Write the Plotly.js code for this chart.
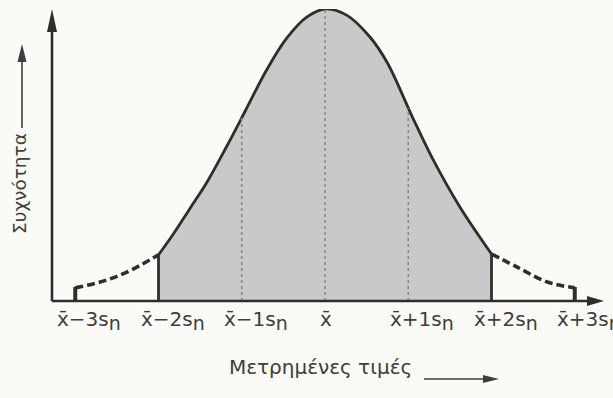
<!DOCTYPE html>
<html>
<head>
<meta charset="utf-8">
<script src="https://cdn.plot.ly/plotly-3.0.1.min.js"></script>
<style>
  html, body { margin: 0; padding: 0; background: #fafaf7; }
  #chart { width: 613px; height: 398px; }
</style>
</head>
<body>
<div id="chart"></div>
<script>
// Distance from the mean, in units of the standard deviation s_n
const tickValues = [-3, -2, -1, 0, 1, 2, 3];
const tickLabels = [
  'x\u0304\u22123s<sub>n</sub>', 'x\u0304\u22122s<sub>n</sub>', 'x\u0304\u22121s<sub>n</sub>',
  'x\u0304',
  'x\u0304+1s<sub>n</sub>', 'x\u0304+2s<sub>n</sub>', 'x\u0304+3s<sub>n</sub>'
];

// Relative frequency (peak = 1): central part between -2s and +2s
const bodyX = [-2, -1.83, -1.62, -1.42, -1.18, -0.95, -0.7, -0.46, -0.22, 0, 0.26, 0.54, 0.75, 1.05, 1.3, 1.62, 2];
const bodyY = [0.158, 0.226, 0.318, 0.406, 0.53, 0.655, 0.792, 0.9, 0.972, 1.0, 0.979, 0.904, 0.815, 0.63, 0.483, 0.322, 0.161];

// Tails beyond ±2s (dashed)
const leftTailX = [-3, -2.7, -2.38, -2];
const leftTailY = [0.045, 0.065, 0.099, 0.158];
const rightTailX = [2, 2.31, 2.67, 3];
const rightTailY = [0.161, 0.116, 0.065, 0.045];

// Vertical markers: dotted guides at -1s, mean, +1s; solid bounds at ±2s; end bars at ±3s
const guideX = [-1, 0, 1];
const guideTop = [0.628, 1.015, 0.66];
const boundX = [-2, 2];
const boundTop = [0.158, 0.161];
const endX = [-3, 3];
const endTop = [0.048, 0.048];

const axisTitleX = 'Μετρημένες τιμές';
const axisTitleY = 'Συχνότητα';

const ink = '#2e2e2e';
const textInk = '#3e3e3e';
const font = '"DejaVu Sans", Verdana, sans-serif';

// plot area geometry (pixels) used for the hand-made axes and arrows
const W = 613, H = 398;
const M = { l: 52, r: 9, t: 9, b: 97 };
const PW = W - M.l - M.r, PH = H - M.t - M.b;
const px = v => (v - M.l) / PW;          // page x -> paper x
const py = v => (H - M.b - v) / PH;      // page y -> paper y

function verticals(xs, tops) {
  const x = [], y = [];
  xs.forEach((v, i) => { x.push(v, v, null); y.push(0, tops[i], null); });
  return { x, y };
}

const g = verticals(guideX, guideTop);
const b = verticals(boundX, boundTop);
const e = verticals(endX, endTop);

const traces = [
  { x: bodyX, y: bodyY, mode: 'lines', line: { color: ink, width: 2.8, shape: 'spline', smoothing: 1 },
    fill: 'tozeroy', fillcolor: '#c9c9c9', hoverinfo: 'skip' },
  { x: g.x, y: g.y, mode: 'lines', line: { color: '#8a8a8a', width: 1.6, dash: 'dot' }, hoverinfo: 'skip' },
  { x: b.x, y: b.y, mode: 'lines', line: { color: ink, width: 2.8 }, hoverinfo: 'skip' },
  { x: leftTailX, y: leftTailY, mode: 'lines', line: { color: ink, width: 3.6, dash: '8px,4px', shape: 'spline' }, hoverinfo: 'skip' },
  { x: rightTailX, y: rightTailY, mode: 'lines', line: { color: ink, width: 3.6, dash: '8px,4px', shape: 'spline' }, hoverinfo: 'skip' },
  { x: e.x, y: e.y, mode: 'lines', line: { color: ink, width: 4 }, hoverinfo: 'skip' }
];

const tri = (pts) => 'M' + pts.map(p => px(p[0]) + ',' + py(p[1])).join('L') + 'Z';

const shapes = [
  // x axis with arrow
  { type: 'line', xref: 'paper', yref: 'paper', x0: px(52), x1: px(592), y0: py(301), y1: py(301), line: { color: ink, width: 2.6 } },
  { type: 'path', xref: 'paper', yref: 'paper', path: tri([[604, 301], [587, 296], [587, 306]]), fillcolor: ink, line: { width: 0 } },
  // y axis with arrow
  { type: 'line', xref: 'paper', yref: 'paper', x0: px(52), x1: px(52), y0: py(301), y1: py(28), line: { color: ink, width: 2.6 } },
  { type: 'path', xref: 'paper', yref: 'paper', path: tri([[52, 9], [47, 32], [57, 32]]), fillcolor: ink, line: { width: 0 } },
  // arrow beside the y title
  { type: 'line', xref: 'paper', yref: 'paper', x0: px(22), x1: px(22), y0: py(128), y1: py(60), line: { color: textInk, width: 1.6 } },
  { type: 'path', xref: 'paper', yref: 'paper', path: tri([[22, 44], [17.5, 62], [26.5, 62]]), fillcolor: textInk, line: { width: 0 } },
  // arrow after the x title
  { type: 'line', xref: 'paper', yref: 'paper', x0: px(424), x1: px(486), y0: py(379), y1: py(379), line: { color: textInk, width: 1.6 } },
  { type: 'path', xref: 'paper', yref: 'paper', path: tri([[499, 379], [483, 375], [483, 383]]), fillcolor: textInk, line: { width: 0 } }
];

const labelFont = { family: font, size: 20, color: textInk };
const annotations = tickValues.map((v, i) => {
  const txt = tickLabels[i].replace('<sub>n</sub>', '<sub><span style="font-size:19px">n</span></sub>');
  const centered = v === 0;
  return {
    x: v, y: 0, xref: 'x', yref: 'paper',
    text: txt,
    showarrow: false, font: labelFont,
    xanchor: centered ? 'center' : 'left', yanchor: 'top',
    xshift: centered ? 1 : -20, yshift: -4
  };
});

annotations.push({
  x: px(320), y: py(367), xref: 'paper', yref: 'paper',
  text: axisTitleX,
  showarrow: false, font: labelFont, xanchor: 'center', yanchor: 'middle'
});
annotations.push({
  x: px(19), y: py(184), xref: 'paper', yref: 'paper',
  text: axisTitleY,
  showarrow: false, font: { family: font, size: 18.5, color: textInk }, textangle: -90, xanchor: 'center', yanchor: 'middle'
});

const layout = {
  width: W, height: H,
  margin: M,
  paper_bgcolor: '#fafaf7', plot_bgcolor: 'rgba(0,0,0,0)',
  showlegend: false,
  xaxis: { range: [(M.l - 325) / 83.25, (W - M.r - 325) / 83.25], visible: false, fixedrange: true },
  yaxis: { range: [0, 1], visible: false, fixedrange: true },
  shapes, annotations,
  font: { family: font, color: textInk }
};

Plotly.newPlot('chart', traces, layout, { staticPlot: true, displayModeBar: false });
</script>
</body>
</html>
